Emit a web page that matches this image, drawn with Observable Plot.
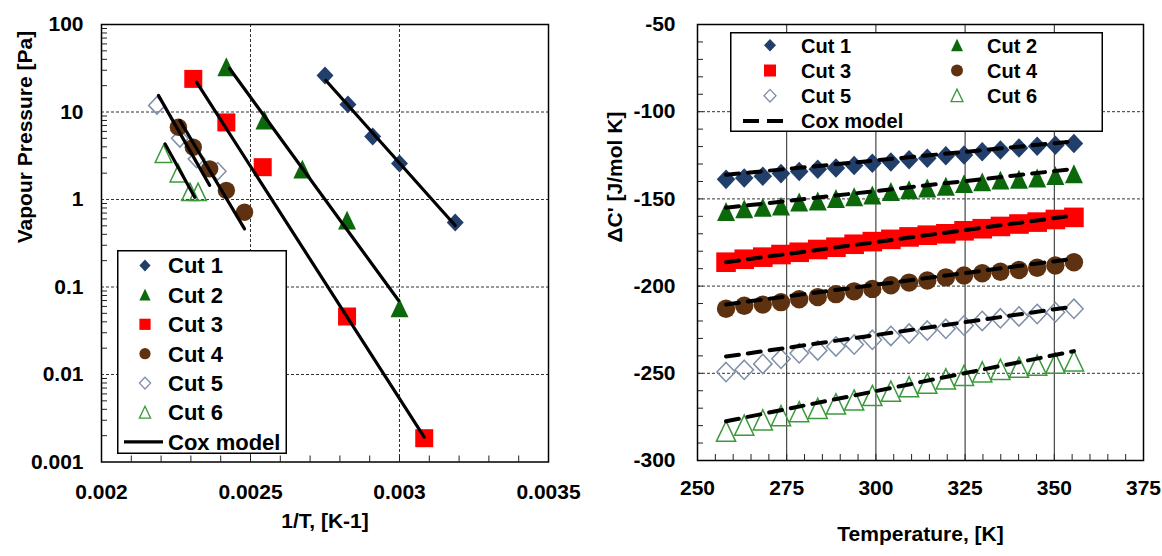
<!DOCTYPE html>
<html><head><meta charset="utf-8">
<script src="https://cdn.jsdelivr.net/npm/d3@7"></script>
<script src="https://cdn.jsdelivr.net/npm/@observablehq/plot@0.6"></script>
<style>
body{margin:0;background:#fff;font-family:"Liberation Sans",Arial,sans-serif;}
#wrap{position:relative;width:1162px;height:556px;overflow:hidden;}
#left{position:absolute;left:0;top:0;width:560px;height:556px;}
#right{position:absolute;left:560px;top:0;width:602px;height:556px;}
svg.leg{position:absolute;overflow:visible;}
</style></head><body>
<div id="wrap"><div id="left"></div><div id="right"></div></div>
<script>
// ---------------- DATA ----------------
const cutNames = ["Cut 1", "Cut 2", "Cut 3", "Cut 4", "Cut 5", "Cut 6"];
const coxLabel = "Cox model";

// Left chart: vapour pressure vs 1/T
const vpInvT1 = [0.00275, 0.002827, 0.00291, 0.003, 0.003187];
const vpP1    = [26.1, 12.2, 5.25, 2.58, 0.546];
const vpInvT2 = [0.002419, 0.002547, 0.002674, 0.002824, 0.003];
const vpP2    = [32.5, 8.0, 2.2, 0.575, 0.057];
const vpInvT3 = [0.002308, 0.002419, 0.002541, 0.002824, 0.003083];
const vpP3    = [23.9, 7.6, 2.34, 0.046, 0.00187];
const vpInvT4 = [0.002258, 0.002308, 0.002363, 0.002419, 0.00248];
const vpP4    = [6.7, 3.96, 2.24, 1.27, 0.716];
const vpInvT5 = [0.002186, 0.002263, 0.002319, 0.00239];
const vpP5    = [11.9, 5.0, 2.9, 2.1];
const vpInvT6 = [0.002208, 0.002258, 0.002297, 0.002324];
const vpP6    = [3.3, 1.97, 1.21, 1.21];

const coxInvT1 = [0.002753, 0.003187]; const coxP1 = [22.9, 0.505];
const coxInvT2 = [0.00243, 0.002997];  const coxP2 = [31.4, 0.070];
const coxInvT3 = [0.002319, 0.003083]; const coxP3 = [21.9, 0.00192];
const coxInvT4 = [0.002263, 0.00248];  const coxP4 = [8.0, 0.462];
const coxInvT5 = [0.002191, 0.002363]; const coxP5 = [15.5, 1.45];
const coxInvT6 = [0.002213, 0.002313]; const coxP6 = [4.33, 1.06];

const leftXTicks = [0.002, 0.0025, 0.003, 0.0035];
const leftXTickLabels = ["0.002", "0.0025", "0.003", "0.0035"];
const leftYTicks = [0.001, 0.01, 0.1, 1, 10, 100];
const leftYTickLabels = ["0.001", "0.01", "0.1", "1", "10", "100"];
const leftXTitle = "1/T, [K-1]";
const leftYTitle = "Vapour Pressure [Pa]";

// Right chart: ΔC' vs temperature
const tempK = [258.0, 263.1, 268.3, 273.4, 278.5, 283.7, 288.8, 293.9, 299.0, 304.2,
               309.3, 314.4, 319.6, 324.7, 329.8, 334.9, 340.1, 345.2, 350.3, 355.5];
const dc1 = [-138.8, -138.0, -137.0, -135.5, -134.3, -133.0, -132.3, -130.8, -129.6, -128.8,
             -127.6, -126.7, -125.3, -124.8, -123.0, -122.0, -120.8, -119.8, -119.2, -118.2];
const dc2 = [-157.5, -156.0, -155.1, -154.4, -152.0, -151.5, -150.0, -149.0, -148.0, -146.0,
             -145.0, -144.0, -143.0, -141.5, -140.5, -139.5, -139.0, -138.3, -136.8, -135.8];
const dc3 = [-186.3, -184.6, -183.4, -181.9, -180.6, -179.0, -177.7, -176.0, -174.5, -173.2,
             -171.8, -170.8, -170.0, -168.3, -167.1, -165.8, -164.4, -163.3, -161.8, -160.6];
const dc4 = [-213.0, -211.3, -210.6, -209.2, -207.5, -206.3, -204.6, -203.0, -201.6, -199.5,
             -198.0, -196.8, -195.0, -193.9, -192.6, -191.8, -190.8, -189.5, -188.2, -186.3];
const dc5 = [-249.3, -248.0, -244.6, -241.7, -238.5, -236.9, -234.6, -233.5, -230.8, -228.6,
             -227.2, -225.5, -224.5, -222.6, -220.0, -218.5, -217.4, -216.0, -215.0, -213.0];
const dc6 = [-283.5, -280.0, -277.0, -274.5, -272.3, -270.4, -267.8, -265.6, -263.0, -260.5,
             -258.0, -256.0, -253.5, -251.5, -249.5, -248.0, -246.8, -245.6, -244.5, -243.2];

const coxT = [258, 355.5];
const coxDc1 = [-136.2, -117.0];
const coxDc2 = [-155.1, -132.8];
const coxDc3 = [-186.3, -159.5];
const coxDc4 = [-210.5, -184.3];
const coxDc5 = [-240.4, -211.7];
const coxDc6 = [-277.5, -237.3];

const rightXTicks = [250, 275, 300, 325, 350, 375];
const rightXTickLabels = ["250", "275", "300", "325", "350", "375"];
const rightYTicks = [-300, -250, -200, -150, -100, -50];
const rightYTickLabels = ["-300", "-250", "-200", "-150", "-100", "-50"];
const rightXTitle = "Temperature, [K]";
const rightYTitle = "ΔC' [J/mol K]";

// ---------------- STYLES ----------------
const half = size => Math.sqrt(size / Math.PI);
const symDiamond = {draw(c, s){const r = half(s); c.moveTo(0,-r*1.05); c.lineTo(r,0); c.lineTo(0,r*1.05); c.lineTo(-r,0); c.closePath();}};
const symSquare = {draw(c, s){const r = half(s); c.rect(-r,-r,2*r,2*r);}};
const symTriangle = {draw(c, s){const r = half(s); c.moveTo(0,-r*1.1); c.lineTo(r,r); c.lineTo(-r,r); c.closePath();}};
const symCircle = d3.symbolCircle;

const navy = "#213f6a", green = "#0b680b", red = "#ff0000", brown = "#5e3210", grayBlue = "#7f8fa8", lightGreen = "#3c9a3c";
const cutStyles = [
  {sym: symDiamond, fill: navy, stroke: "none"},
  {sym: symTriangle, fill: green, stroke: "none"},
  {sym: symSquare, fill: red, stroke: "none"},
  {sym: symCircle, fill: brown, stroke: "none"},
  {sym: symDiamond, fill: "none", stroke: grayBlue},
  {sym: symTriangle, fill: "none", stroke: lightGreen}
];
const leftSizes = [8.5, 9, 9, 8.7, 8.3, 8.3];
const rightSizes = [9.3, 9, 9.8, 9.2, 9.2, 9.6];
const font = "'Liberation Sans', Arial, sans-serif";
const plotStyle = {fontFamily: font, fontSize: "21px", fontWeight: "bold", color: "#000", background: "transparent", overflow: "visible"};

// ---------------- LEFT CHART ----------------
const leftSeries = [[vpInvT1, vpP1], [vpInvT2, vpP2], [vpInvT3, vpP3], [vpInvT4, vpP4], [vpInvT5, vpP5], [vpInvT6, vpP6]];
const leftCox = [[coxInvT1, coxP1], [coxInvT2, coxP2], [coxInvT3, coxP3], [coxInvT4, coxP4], [coxInvT5, coxP5], [coxInvT6, coxP6]];
const leftOrder = [4, 5, 0, 1, 2, 3];

const xMinorL = d3.range(21, 35).map(i => i / 10000);
const yMinorL = [];
for (const dec of [0.001, 0.01, 0.1, 1, 10]) for (let k = 2; k <= 9; k++) yMinorL.push(dec * k);

const leftPlot = Plot.plot({
  width: 560, height: 556,
  marginLeft: 101, marginRight: 12, marginTop: 24, marginBottom: 94.5,
  style: plotStyle,
  x: {domain: [0.002, 0.0035]},
  y: {type: "log", domain: [0.001, 100]},
  marks: [
    Plot.gridX([0.0025, 0.003], {stroke: "#333", strokeOpacity: 1, strokeDasharray: "3,2"}),
    Plot.gridY([0.01, 0.1, 1, 10], {stroke: "#333", strokeOpacity: 1, strokeDasharray: "3,2"}),
    ...leftOrder.map(i => Plot.dot(d3.zip(...leftSeries[i]), {
      x: d => d[0], y: d => d[1], symbol: cutStyles[i].sym, r: leftSizes[i],
      fill: cutStyles[i].fill, stroke: cutStyles[i].stroke, strokeWidth: 1.5
    })),
    ...leftCox.map(c => Plot.line(d3.zip(...c), {x: d => d[0], y: d => d[1], stroke: "#000", strokeWidth: 3.2})),
    Plot.axisX(xMinorL, {tickSize: -6, fill: "none", label: null, stroke: "#222"}),
    Plot.axisY(yMinorL, {tickSize: -6, fill: "none", label: null, stroke: "#222"}),
    Plot.axisX(leftXTicks, {tickSize: 0, tickPadding: 22, label: null,
      tickFormat: d => leftXTickLabels[leftXTicks.indexOf(d)]}),
    Plot.axisY(leftYTicks, {tickSize: 0, tickPadding: 18, label: null,
      tickFormat: d => leftYTickLabels[leftYTicks.indexOf(d)]}),
    Plot.text([leftXTitle], {text: d => d, frameAnchor: "bottom", dy: 66}),
    Plot.text([leftYTitle], {text: d => d, frameAnchor: "left", dx: -76, rotate: -90}),
    Plot.frame({stroke: "#000", strokeWidth: 1.5})
  ]
});
document.getElementById("left").appendChild(leftPlot);

// ---------------- RIGHT CHART ----------------
const rightSeries = [dc1, dc2, dc3, dc4, dc5, dc6];
const rightCox = [coxDc1, coxDc2, coxDc3, coxDc4, coxDc5, coxDc6];
const xMinorR = d3.range(255, 375, 5);
const yMinorR = d3.range(-290, -50, 10);

const rightPlot = Plot.plot({
  width: 602, height: 556,
  marginLeft: 137, marginRight: 19, marginTop: 24, marginBottom: 96,
  style: plotStyle,
  x: {domain: [250, 375]},
  y: {domain: [-300, -50]},
  marks: [
    Plot.gridX([275, 300, 325, 350], {stroke: "#222", strokeOpacity: 1, strokeWidth: 1}),
    Plot.gridY([-100, -150, -200, -250], {stroke: "#333", strokeOpacity: 1, strokeDasharray: "3,2"}),
    ...rightSeries.map((s, i) => Plot.dot(d3.zip(tempK, s), {
      x: d => d[0], y: d => d[1], symbol: cutStyles[i].sym, r: rightSizes[i],
      fill: cutStyles[i].fill, stroke: cutStyles[i].stroke, strokeWidth: 1.5
    })),
    ...rightCox.map(c => Plot.line(d3.zip(coxT, c), {x: d => d[0], y: d => d[1],
      stroke: "#000", strokeWidth: 4, strokeDasharray: "13,9"})),
    Plot.axisX(xMinorR, {tickSize: -6, fill: "none", label: null, stroke: "#222"}),
    Plot.axisY(yMinorR, {tickSize: -6, fill: "none", label: null, stroke: "#222"}),
    Plot.axisX(rightXTicks, {tickSize: 0, tickPadding: 20, label: null,
      tickFormat: d => rightXTickLabels[rightXTicks.indexOf(d)]}),
    Plot.axisY(rightYTicks, {tickSize: 0, tickPadding: 22, label: null,
      tickFormat: d => rightYTickLabels[rightYTicks.indexOf(d)]}),
    Plot.text([rightXTitle], {text: d => d, frameAnchor: "bottom", dy: 80}),
    Plot.text([rightYTitle], {text: d => d, frameAnchor: "left", dx: -82, rotate: -90}),
    Plot.frame({stroke: "#000", strokeWidth: 1.5})
  ]
});
document.getElementById("right").appendChild(rightPlot);

// ---------------- LEGENDS ----------------
function drawLegend(box, entries, fontSize, dashed) {
  const svg = d3.select("#wrap").append("svg").attr("class", "leg")
    .style("left", box.left + "px").style("top", box.top + "px")
    .attr("width", box.width).attr("height", box.height);
  svg.append("rect").attr("x", 0.75).attr("y", 0.75).attr("width", box.width - 1.5).attr("height", box.height - 1.5)
    .attr("fill", "#fff").attr("stroke", "#000").attr("stroke-width", 1.5);
  for (const e of entries) {
    if (e.style) {
      svg.append("path").attr("transform", `translate(${e.mx},${e.cy})`)
        .attr("d", d3.symbol(e.style.sym, Math.PI * e.size * e.size)())
        .attr("fill", e.style.fill).attr("stroke", e.style.stroke).attr("stroke-width", 1.3);
    } else {
      svg.append("line").attr("x1", e.l1).attr("x2", e.l2).attr("y1", e.cy).attr("y2", e.cy)
        .attr("stroke", "#000").attr("stroke-width", dashed ? 4 : 3.2)
        .attr("stroke-dasharray", dashed ? "16,8" : null);
    }
    svg.append("text").attr("x", e.tx).attr("y", e.cy).attr("dy", "0.36em")
      .attr("font-family", font).attr("font-weight", "bold").attr("font-size", fontSize)
      .attr("fill", "#000").text(e.label);
  }
}

const leftEntries = cutNames.map((n, i) => ({label: n, style: cutStyles[i], size: 5.6, mx: 28, tx: 51, cy: 15.5 + i * 29.4}));
leftEntries.push({label: coxLabel, l1: 7, l2: 46, tx: 51, cy: 15.5 + 6 * 29.4});
drawLegend({left: 117, top: 250, width: 170, height: 204}, leftEntries, 22, false);

const rightEntries = cutNames.map((n, i) => ({label: n, style: cutStyles[i], size: 6,
  mx: i % 2 === 0 ? 40 : 227, tx: i % 2 === 0 ? 71 : 257, cy: 13.3 + Math.floor(i / 2) * 25.2}));
rightEntries.push({label: coxLabel, l1: 13, l2: 53, tx: 71, cy: 13.3 + 3 * 25.2});
drawLegend({left: 730, top: 32, width: 373, height: 100}, rightEntries, 20, true);
</script>
</body></html>
